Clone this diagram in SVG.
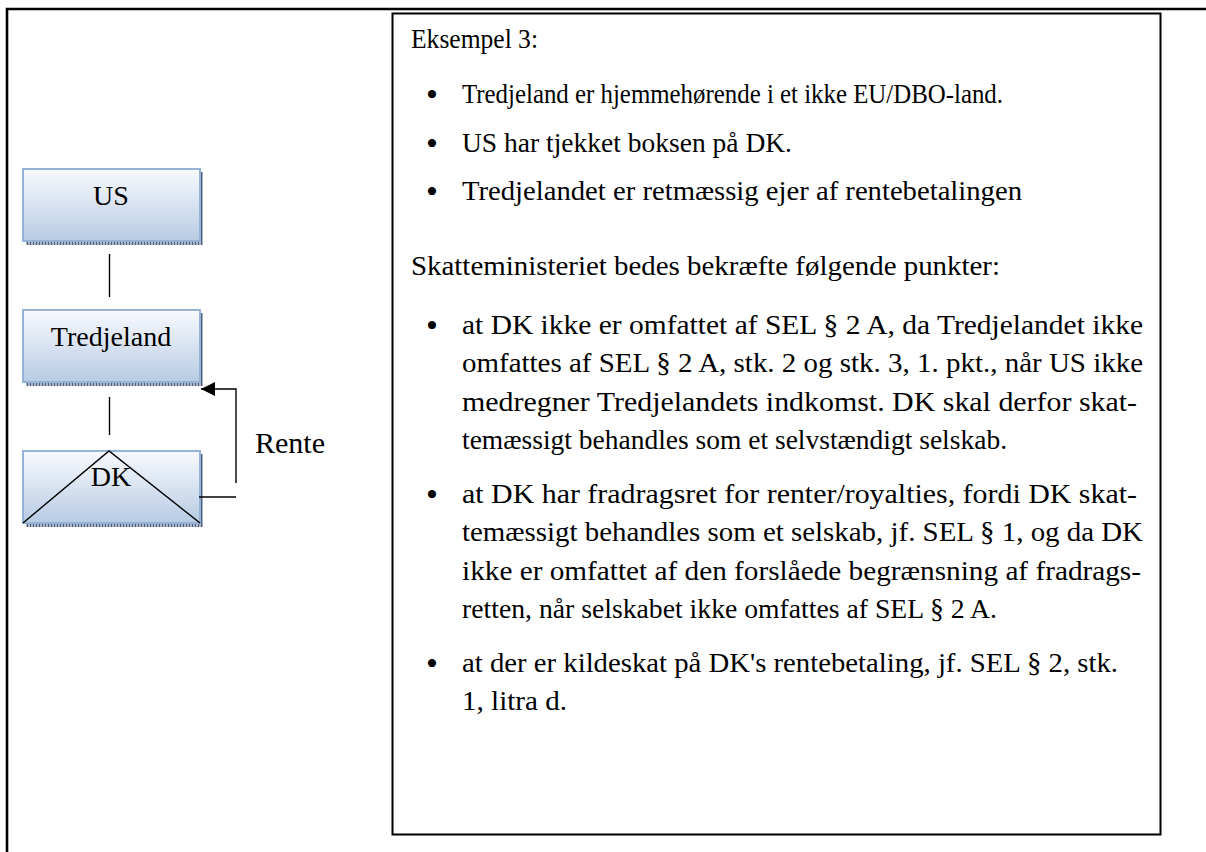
<svg xmlns="http://www.w3.org/2000/svg" width="1206" height="852" viewBox="0 0 1206 852">
<defs>
<linearGradient id="nodeFill" x1="0" y1="0" x2="0" y2="1">
<stop offset="0" stop-color="#f7f9fd"/>
<stop offset="0.35" stop-color="#e2eaf5"/>
<stop offset="1" stop-color="#b7cbe3"/>
</linearGradient>
<pattern id="shadowPat" width="3" height="3" patternUnits="userSpaceOnUse">
<rect width="3" height="3" fill="#aab5c8"/>
<rect width="1" height="3" fill="#4d5d78"/>
</pattern>
<marker id="arrow" markerWidth="14" markerHeight="14" refX="14" refY="7" orient="auto" markerUnits="userSpaceOnUse">
<path d="M0,0 L14,7 L0,14 Z" fill="#000"/>
</marker>
<style>
.shadow{fill:url(#shadowPat);}
.box{fill:url(#nodeFill);stroke:#95b3d7;stroke-width:2;}
.nlabel{font-family:"Liberation Serif","Times New Roman",serif;font-size:28px;fill:#000;text-anchor:middle;}
.conn{stroke:#000;stroke-width:1.4;fill:none;}
.body{font-family:"Liberation Serif","Times New Roman",serif;font-size:27px;fill:#000;}
.bul{font-family:"Liberation Serif","Times New Roman",serif;font-size:34px;fill:#000;}
.frame{stroke:#000;fill:none;}
</style>
</defs>
<rect width="1206" height="852" fill="#fff"/>
<path class="frame" d="M7,852 V9 H1206" stroke-width="2.6"/>
<g id="textbox">
<rect class="frame" x="392.5" y="13.5" width="768" height="821" stroke-width="2"/>
<text class="body" x="411" y="48" textLength="127" lengthAdjust="spacingAndGlyphs">Eksempel 3:</text>
<text class="bul" x="426" y="106">•</text>
<text class="body" x="462" y="103" textLength="541" lengthAdjust="spacingAndGlyphs">Tredjeland er hjemmehørende i et ikke EU/DBO-land.</text>
<text class="bul" x="426" y="155">•</text>
<text class="body" x="462" y="152" textLength="330" lengthAdjust="spacingAndGlyphs">US har tjekket boksen på DK.</text>
<text class="bul" x="426" y="203">•</text>
<text class="body" x="462" y="200" textLength="560" lengthAdjust="spacingAndGlyphs">Tredjelandet er retmæssig ejer af rentebetalingen</text>
<text class="body" x="411" y="275" textLength="589" lengthAdjust="spacingAndGlyphs">Skatteministeriet bedes bekræfte følgende punkter:</text>
<text class="bul" x="426" y="337">•</text>
<text class="body" x="462" y="334" textLength="681" lengthAdjust="spacingAndGlyphs">at DK ikke er omfattet af SEL § 2 A, da Tredjelandet ikke</text>
<text class="body" x="462" y="372" textLength="681" lengthAdjust="spacingAndGlyphs">omfattes af SEL § 2 A, stk. 2 og stk. 3, 1. pkt., når US ikke</text>
<text class="body" x="462" y="411" textLength="675" lengthAdjust="spacingAndGlyphs">medregner Tredjelandets indkomst. DK skal derfor skat-</text>
<text class="body" x="462" y="449" textLength="545" lengthAdjust="spacingAndGlyphs">temæssigt behandles som et selvstændigt selskab.</text>
<text class="bul" x="426" y="506">•</text>
<text class="body" x="462" y="503" textLength="675" lengthAdjust="spacingAndGlyphs">at DK har fradragsret for renter/royalties, fordi DK skat-</text>
<text class="body" x="462" y="541" textLength="681" lengthAdjust="spacingAndGlyphs">temæssigt behandles som et selskab, jf. SEL § 1, og da DK</text>
<text class="body" x="462" y="580" textLength="679" lengthAdjust="spacingAndGlyphs">ikke er omfattet af den forslåede begrænsning af fradrags-</text>
<text class="body" x="462" y="618" textLength="535" lengthAdjust="spacingAndGlyphs">retten, når selskabet ikke omfattes af SEL § 2 A.</text>
<text class="bul" x="426" y="675">•</text>
<text class="body" x="462" y="672" textLength="656" lengthAdjust="spacingAndGlyphs">at der er kildeskat på DK's rentebetaling, jf. SEL § 2, stk.</text>
<text class="body" x="462" y="710" textLength="105" lengthAdjust="spacingAndGlyphs">1, litra d.</text>
</g>
<g id="node-us">
<rect class="shadow" x="26" y="172" width="177" height="73"/>
<rect class="box" x="23" y="169" width="177" height="72"/>
<text class="nlabel" x="111" y="205">US</text>
</g>
<g id="node-tredjeland">
<rect class="shadow" x="26" y="313" width="177" height="73"/>
<rect class="box" x="23" y="310" width="177" height="72"/>
<text class="nlabel" x="111" y="346">Tredjeland</text>
</g>
<g id="node-dk">
<rect class="shadow" x="26" y="454" width="177" height="73"/>
<rect class="box" x="23" y="451" width="177" height="72"/>
<text class="nlabel" x="111" y="486">DK</text>
<path class="conn" d="M23,523 L109,451 L200,523"/>
</g>
<g id="connectors">
<line class="conn" x1="109.5" y1="254" x2="109.5" y2="297"/>
<line class="conn" x1="109.5" y1="397" x2="109.5" y2="435"/>
<line class="conn" x1="199" y1="497" x2="236" y2="497"/>
<path class="conn" d="M236,483 V389 H201" marker-end="url(#arrow)"/>
<text x="255" y="453" font-family="Liberation Serif, Times New Roman, serif" font-size="30">Rente</text>
</g>
</svg>
